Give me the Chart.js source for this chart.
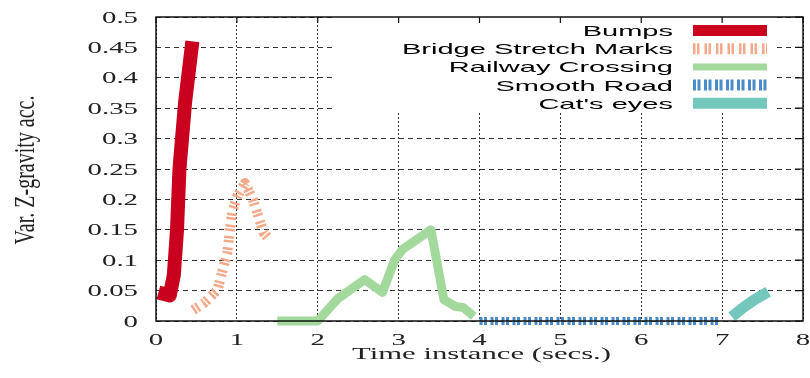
<!DOCTYPE html>
<html>
<head>
<meta charset="utf-8">
<script src="https://cdn.jsdelivr.net/npm/chart.js@4/dist/chart.umd.min.js"></script>
<style>
  html, body { margin: 0; padding: 0; background: #fff; }
  #wrap { width: 810px; height: 378px; }
</style>
</head>
<body>
<div id="wrap"><canvas id="chart"></canvas></div>
<script>
// series names, in legend order
const seriesNames = ['Bumps', 'Bridge Stretch Marks', 'Railway Crossing', 'Smooth Road', "Cat's eyes"];

// values (x = secs, y = variance)
const bumpsX = [0.03, 0.17, 0.22, 0.26, 0.29, 0.36, 0.45];
const bumpsY = [0.047, 0.042, 0.075, 0.15, 0.25, 0.36, 0.46];

const bridgeX = [0.46, 0.6, 0.76, 0.88, 0.94, 1.0, 1.1, 1.2, 1.33, 1.41];
const bridgeY = [0.018, 0.03, 0.051, 0.112, 0.178, 0.204, 0.227, 0.199, 0.145, 0.133];

const railX = [1.5, 2.0, 2.25, 2.58, 2.8, 2.95, 3.05, 3.4, 3.56, 3.7, 3.8, 3.93];
const railY = [0, 0, 0.037, 0.068, 0.047, 0.1, 0.118, 0.15, 0.035, 0.024, 0.022, 0.008];

const smoothX = [4.0, 5.0, 6.0, 6.95];
const smoothY = [0, 0, 0, 0];

const catsX = [7.12, 7.27, 7.4, 7.57];
const catsY = [0.007, 0.023, 0.035, 0.048];

const xTickLabels = ['0', '1', '2', '3', '4', '5', '6', '7', '8'];
const yTickLabels = ['0', '0.05', '0.1', '0.15', '0.2', '0.25', '0.3', '0.35', '0.4', '0.45', '0.5'];

const xTitle = 'Time instance (secs.)';
const yTitle = 'Var. Z-gravity acc.';

function toPoints(xs, ys) {
  return xs.map((x, i) => ({ x: x, y: ys[i] }));
}

// the source figure is stretched sideways, so text is drawn with a horizontal scale
const stretch = 1.8;

function wideText(ctx, text, x, y, sx, align, baseline) {
  ctx.save();
  ctx.translate(x, y);
  ctx.scale(sx, 1);
  ctx.textAlign = align;
  ctx.textBaseline = baseline;
  ctx.fillText(text, 0, 0);
  ctx.restore();
}

const framePlugin = {
  id: 'frame',
  afterDraw(chart) {
    const ctx = chart.ctx;
    const a = chart.chartArea;
    const xs = chart.scales.x;
    const ys = chart.scales.y;
    ctx.save();

    // legend box (hides the grid behind it)
    ctx.fillStyle = '#fff';
    ctx.fillRect(332, a.top, 775 - 332, 113 - a.top);

    // legend entries: text right aligned, sample line on the right
    ctx.font = '15px "Liberation Sans"';
    const sx = 271 / ctx.measureText('Bridge Stretch Marks').width;
    chart.data.datasets.forEach((ds, i) => {
      const rowY = 30.5 + i * 18.2;
      ctx.fillStyle = '#000';
      wideText(ctx, ds.label, 673, rowY + 5.5, sx, 'right', 'alphabetic');

      ctx.save();
      ctx.strokeStyle = ds.borderColor;
      ctx.lineWidth = ds.legendWidth;
      ctx.lineCap = 'butt';
      ctx.setLineDash(ds.borderDash || []);
      ctx.beginPath();
      ctx.moveTo(693, rowY);
      ctx.lineTo(767, rowY);
      ctx.stroke();
      ctx.restore();
    });

    // full frame + inward mirror ticks on top and right
    ctx.strokeStyle = '#111';
    ctx.lineWidth = 1.5;
    ctx.setLineDash([]);
    ctx.strokeRect(a.left, a.top, a.right - a.left, a.bottom - a.top);
    ctx.lineWidth = 1.2;
    ctx.beginPath();
    xs.ticks.forEach(t => {
      const px = xs.getPixelForValue(t.value);
      ctx.moveTo(px, a.top);
      ctx.lineTo(px, a.top + 6);
    });
    ys.ticks.forEach(t => {
      const py = ys.getPixelForValue(t.value);
      ctx.moveTo(a.right, py);
      ctx.lineTo(a.right - 8, py);
    });
    ctx.stroke();

    // tick labels at the scales' own tick positions
    ctx.fillStyle = '#222';
    ctx.font = '16px "Liberation Serif"';
    xs.ticks.forEach((t, i) => {
      wideText(ctx, xTickLabels[i], xs.getPixelForValue(t.value), 345, stretch, 'center', 'alphabetic');
    });
    ys.ticks.forEach((t, i) => {
      wideText(ctx, yTickLabels[i], 138, ys.getPixelForValue(t.value) + 5.5, stretch, 'right', 'alphabetic');
    });

    // axis titles
    ctx.font = '16px "Liberation Serif"';
    const tx = 259 / ctx.measureText(xTitle).width;
    wideText(ctx, xTitle, (a.left + a.right) / 2 + 2, 359, tx, 'center', 'alphabetic');

    ctx.save();
    ctx.font = '20px "Liberation Serif"';
    ctx.translate(26, (a.top + a.bottom) / 2 + 1);
    ctx.rotate(-Math.PI / 2);
    ctx.scale(1, 1.5);
    ctx.textAlign = 'center';
    ctx.textBaseline = 'middle';
    ctx.fillText(yTitle, 0, 0);
    ctx.restore();

    ctx.restore();
  }
};

const ctx = document.getElementById('chart').getContext('2d');
const chart = new Chart(ctx, {
  type: 'line',
  data: {
    datasets: [
      {
        label: seriesNames[0],
        data: toPoints(bumpsX, bumpsY),
        borderColor: '#c9001e',
        borderWidth: 14,
        legendWidth: 11
      },
      {
        label: seriesNames[1],
        data: toPoints(bridgeX, bridgeY),
        borderColor: '#f4aa8a',
        borderWidth: 10,
        borderDash: [2.5, 1.5, 2.5, 5],
        legendWidth: 11
      },
      {
        label: seriesNames[2],
        data: toPoints(railX, railY),
        borderColor: '#a4d99d',
        borderWidth: 9,
        legendWidth: 7
      },
      {
        label: seriesNames[3],
        data: toPoints(smoothX, smoothY),
        borderColor: '#4a8cc9',
        borderWidth: 8,
        borderDash: [3, 1.5, 3, 3.5],
        legendWidth: 11
      },
      {
        label: seriesNames[4],
        data: toPoints(catsX, catsY),
        borderColor: '#73c7bd',
        borderWidth: 11,
        legendWidth: 11
      }
    ]
  },
  options: {
    responsive: true,
    maintainAspectRatio: false,
    animation: false,
    devicePixelRatio: 1,
    layout: { padding: { top: 17, right: 7, left: 0, bottom: 0 } },
    datasets: { line: { clip: false } },
    elements: {
      point: { radius: 0 },
      line: { tension: 0, fill: false, borderCapStyle: 'butt', borderJoinStyle: 'round' }
    },
    plugins: {
      legend: { display: false },
      tooltip: { enabled: false }
    },
    scales: {
      x: {
        type: 'linear',
        min: 0,
        max: 8,
        ticks: { stepSize: 1, autoSkip: false, display: false },
        grid: { color: '#333', lineWidth: 1, drawTicks: false },
        border: { display: false, dash: [2, 2] },
        afterFit(s) { s.height = 57; }
      },
      y: {
        type: 'linear',
        min: 0,
        max: 0.5,
        ticks: { stepSize: 0.05, autoSkip: false, display: false },
        grid: { color: '#333', lineWidth: 1, drawTicks: false },
        border: { display: false, dash: [5, 4] },
        afterFit(s) { s.width = 156; }
      }
    }
  },
  plugins: [framePlugin]
});
</script>
</body>
</html>
